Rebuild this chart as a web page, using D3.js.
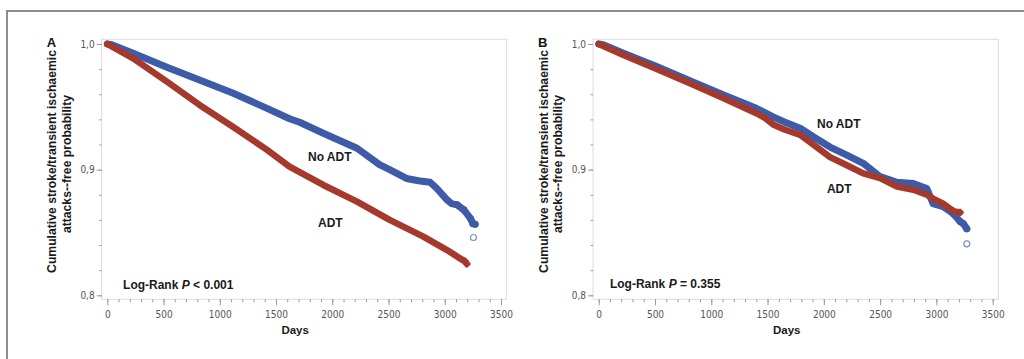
<!DOCTYPE html>
<html><head><meta charset="utf-8">
<script src="https://cdn.jsdelivr.net/npm/d3@7"></script>
<style>
body{margin:0;background:#fff;}
svg{display:block;}
</style></head><body>
<svg id="chart" width="1024" height="359"></svg>
<script>
// ---------- data ----------
const panelLetters = ["A", "B"];
const xMajorTicks = [0, 500, 1000, 1500, 2000, 2500, 3000, 3500];
const yMajorTicks = [0.8, 0.9, 1.0];
const groupLabels = ["No ADT", "ADT"];
const pValueTexts = ["< 0.001", "= 0.355"];

// Panel A – No ADT
const aNoAdtDays = [0, 40, 230, 530, 820, 1120, 1420, 1620, 1710, 1920, 2220, 2420, 2510, 2660, 2780, 2870, 2930, 3020, 3060, 3110, 3170, 3230, 3250, 3270];
const aNoAdtSurv = [1.0, 0.9995, 0.9926, 0.9815, 0.9714, 0.9608, 0.9488, 0.9405, 0.9377, 0.929, 0.917, 0.904, 0.900, 0.893, 0.891, 0.890, 0.885, 0.876, 0.873, 0.872, 0.868, 0.861, 0.857, 0.8566];
// Panel A – ADT
const aAdtDays = [0, 230, 530, 820, 1120, 1420, 1620, 1710, 1920, 2220, 2510, 2810, 3020, 3110, 3180, 3196];
const aAdtSurv = [1.0, 0.9886, 0.970, 0.9515, 0.934, 0.9157, 0.9024, 0.898, 0.8878, 0.8746, 0.860, 0.8467, 0.836, 0.8308, 0.827, 0.825];
// Panel B – No ADT
const bNoAdtDays = [0, 40, 220, 515, 810, 1110, 1400, 1550, 1650, 1790, 1910, 2055, 2200, 2350, 2500, 2650, 2795, 2915, 2970, 3060, 3150, 3210, 3240, 3270];
const bNoAdtSurv = [1.0, 0.9995, 0.9926, 0.982, 0.9708, 0.9594, 0.9488, 0.942, 0.938, 0.933, 0.926, 0.918, 0.9117, 0.905, 0.8944, 0.890, 0.889, 0.885, 0.873, 0.8706, 0.865, 0.8587, 0.857, 0.853];
// Panel B – ADT
const bAdtDays = [0, 220, 515, 810, 1110, 1400, 1480, 1550, 1650, 1790, 1910, 2055, 2200, 2350, 2500, 2650, 2795, 2915, 2970, 3060, 3150, 3210];
const bAdtSurv = [1.0, 0.9912, 0.980, 0.9687, 0.9568, 0.9449, 0.941, 0.936, 0.932, 0.9276, 0.9197, 0.910, 0.9037, 0.897, 0.8932, 0.8865, 0.884, 0.880, 0.877, 0.873, 0.867, 0.866];
// last censored observation (open circle)
const censorDays = [3255, 3270];
const censorSurv = [0.846, 0.841];

// ---------- layout ----------
const svg = d3.select("#chart");
const blue = "#3d5ba8", red = "#a5392c";

// outer border
svg.append("path").attr("d", "M7,370 L7,11 L1030,11")
  .attr("fill", "none").attr("stroke", "#8c8c8c").attr("stroke-width", 2);

const panelDefs = [
  {x0: 107.3, x1: 501.0, noDays: aNoAdtDays, noSurv: aNoAdtSurv, adDays: aAdtDays, adSurv: aAdtSurv,
   noLab: [1784, 0.9065], adLab: [1873, 0.854], lr: [140, 0.8047]},
  {x0: 598.7, x1: 992.7, noDays: bNoAdtDays, noSurv: bNoAdtSurv, adDays: bAdtDays, adSurv: bAdtSurv,
   noLab: [1939, 0.9328], adLab: [2027, 0.8811], lr: [100, 0.8062]}
];

const yPix = d3.scaleLinear().domain([0.8, 1.0]).range([295.3, 44]);
const fontMain = "'Liberation Sans', Arial, Helvetica, sans-serif";
const fontNarrow = "'Liberation Sans Narrow', 'DejaVu Sans Condensed', 'Arial Narrow', sans-serif";

panelDefs.forEach((p, i) => {
  const x = d3.scaleLinear().domain([0, 3500]).range([p.x0, p.x1]);
  const y = yPix;
  const pad = 5.6;
  const fl = x(0) - pad, fr = x(3500) + pad, ft = y(1.0) - 4.7, fb = y(0.8) + 4;
  const g = svg.append("g");

  // frame
  g.append("rect").attr("x", fl).attr("y", ft).attr("width", fr - fl).attr("height", fb - ft)
    .attr("fill", "none").attr("stroke", "#dcdcdc").attr("stroke-width", 1);

  // x axis minor
  const xMinor = g.append("g").attr("transform", `translate(0,${fb})`)
    .call(d3.axisBottom(x).tickValues(d3.range(0, 3501, 100)).tickSize(3).tickFormat(""));
  xMinor.select(".domain").remove();
  xMinor.selectAll("line").attr("stroke", "#9a9a9a");
  // x axis major
  const xMajor = g.append("g").attr("transform", `translate(0,${fb})`)
    .call(d3.axisBottom(x).tickValues(xMajorTicks).tickSize(6).tickPadding(6).tickFormat(d3.format("d")));
  xMajor.select(".domain").remove();
  xMajor.selectAll("line").attr("stroke", "#9a9a9a");
  xMajor.selectAll("text").attr("font-family", fontNarrow).attr("font-size", 10).attr("fill", "#555");

  // y axis minor
  const yMinor = g.append("g").attr("transform", `translate(${fl},0)`)
    .call(d3.axisLeft(y).tickValues(d3.range(0.8, 1.0001, 0.02)).tickSize(2.5).tickFormat(""));
  yMinor.select(".domain").remove();
  yMinor.selectAll("line").attr("stroke", "#9a9a9a");
  const yMajor = g.append("g").attr("transform", `translate(${fl},0)`)
    .call(d3.axisLeft(y).tickValues(yMajorTicks).tickSize(5).tickPadding(2)
      .tickFormat(d => d3.format(".1f")(d).replace(".", ",")));
  yMajor.select(".domain").remove();
  yMajor.selectAll("line").attr("stroke", "#9a9a9a");
  yMajor.selectAll("text").attr("font-family", fontNarrow).attr("font-size", 10).attr("fill", "#555");

  // curves
  const line = d3.line().x(d => x(d[0])).y(d => y(d[1]));
  const noData = p.noDays.map((d, k) => [d, p.noSurv[k]]);
  const adData = p.adDays.map((d, k) => [d, p.adSurv[k]]);

  g.append("path").datum(noData).attr("d", line).attr("fill", "none")
    .attr("stroke", blue).attr("stroke-width", 7).attr("stroke-linecap", "round").attr("stroke-linejoin", "round");
  g.selectAll(".bdot").data(noData.filter(d => d[0] >= 3100)).join("circle")
    .attr("cx", d => x(d[0])).attr("cy", d => y(d[1])).attr("r", 3.5).attr("fill", blue);

  g.append("path").datum(adData).attr("d", line).attr("fill", "none")
    .attr("stroke", red).attr("stroke-width", 6.5).attr("stroke-linecap", "round").attr("stroke-linejoin", "round");
  g.selectAll(".rplus").data(adData.slice(-2)).join("path")
    .attr("transform", d => `translate(${x(d[0])},${y(d[1])})`)
    .attr("d", d3.symbol(d3.symbolCross, 30)).attr("fill", red);

  // censored open circle
  g.append("circle").attr("cx", x(censorDays[i])).attr("cy", y(censorSurv[i])).attr("r", 3)
    .attr("fill", "#fff").attr("stroke", "#7f90b8").attr("stroke-width", 1.2);

  // labels
  g.append("text").attr("x", x(p.noLab[0])).attr("y", y(p.noLab[1]))
    .attr("font-family", fontMain).attr("font-weight", "bold").attr("font-size", 12).attr("fill", "#1a1a1a")
    .text(groupLabels[0]);
  g.append("text").attr("x", x(p.adLab[0])).attr("y", y(p.adLab[1]))
    .attr("font-family", fontMain).attr("font-weight", "bold").attr("font-size", 12).attr("fill", "#1a1a1a")
    .text(groupLabels[1]);
  const lr = g.append("text").attr("x", x(p.lr[0])).attr("y", y(p.lr[1]))
    .attr("font-family", fontMain).attr("font-weight", "bold").attr("font-size", 12).attr("fill", "#1a1a1a");
  lr.append("tspan").text("Log-Rank ");
  lr.append("tspan").attr("font-style", "italic").text("P");
  lr.append("tspan").text(" " + pValueTexts[i]);

  // x title
  g.append("text").attr("x", (fl + fr) / 2 - 9).attr("y", 334).attr("text-anchor", "middle")
    .attr("font-family", fontMain).attr("font-weight", "bold").attr("font-size", 11.5).attr("fill", "#1a1a1a")
    .text("Days");

  // y title (two lines)
  g.append("text").attr("transform", `translate(${fl - 45.5},161.5) rotate(-90)`).attr("text-anchor", "middle")
    .attr("font-family", fontMain).attr("font-weight", "bold").attr("font-size", 12.2).attr("fill", "#1a1a1a")
    .text("Cumulative stroke/transient ischaemic");
  g.append("text").attr("transform", `translate(${fl - 31},164) rotate(-90)`).attr("text-anchor", "middle")
    .attr("font-family", fontMain).attr("font-weight", "bold").attr("font-size", 12.2).attr("fill", "#1a1a1a")
    .text("attacks--free probability");

  // panel letter
  g.append("text").attr("x", fl - 55).attr("y", 46.5)
    .attr("font-family", fontMain).attr("font-weight", "bold").attr("font-size", 13).attr("fill", "#111")
    .text(panelLetters[i]);
});
</script>
</body></html>
